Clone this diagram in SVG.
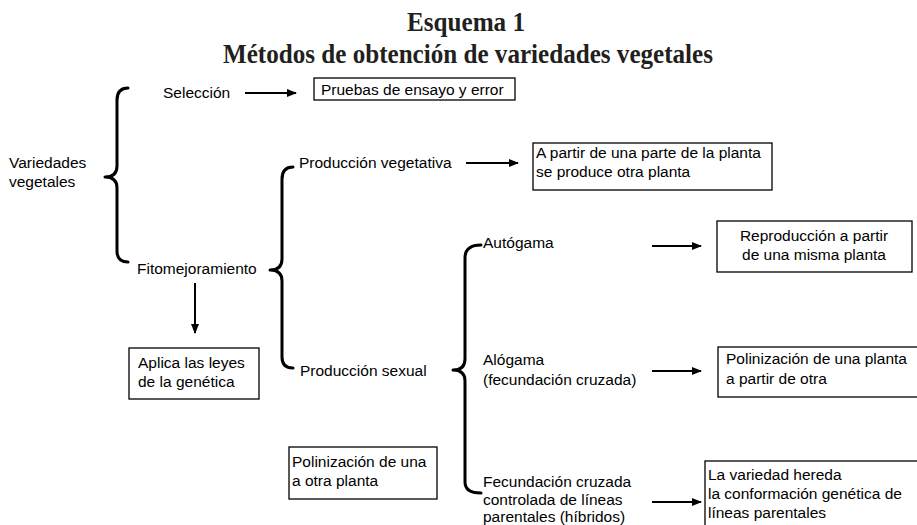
<svg xmlns="http://www.w3.org/2000/svg" width="917" height="525" viewBox="0 0 917 525">
<style>
.t{font-family:"Liberation Sans",Arial,sans-serif;font-size:15.5px;fill:#000}
.h{font-family:"Liberation Serif","Times New Roman",serif;font-weight:bold;font-size:27px;fill:#231f20}
.box{fill:#fff;stroke:#000;stroke-width:1.3}
.br{fill:none;stroke:#000;stroke-width:3;stroke-linecap:round;stroke-linejoin:round}
.ar{fill:none;stroke:#000;stroke-width:2;marker-end:url(#ah)}
</style>
<defs>
<marker id="ah" markerWidth="10" markerHeight="8" refX="9" refY="4" orient="auto" markerUnits="userSpaceOnUse">
<path d="M0,0 L10,4 L0,8 Z" fill="#000"/>
</marker>
</defs>
<rect width="917" height="525" fill="#fff"/>
<g id="title">
<text class="h" x="466" y="31" text-anchor="middle" textLength="118" lengthAdjust="spacingAndGlyphs">Esquema 1</text>
<text class="h" x="468" y="63" text-anchor="middle" textLength="490" lengthAdjust="spacingAndGlyphs">Métodos de obtención de variedades vegetales</text>
</g>
<g id="connectors">
<path class="br" d="M128,88 Q117,88 117,100 L117,166 Q117,177 105,177 Q117,177 117,188 L117,251 Q117,262 128,262"/>
<path class="br" d="M293,167 Q282,167 282,179 L282,259 Q282,270 270,270 Q282,270 282,281 L282,357 Q282,368 293,368"/>
<path class="br" d="M481,245 Q465,245 465,258 L465,359 Q465,370 453,370 Q465,370 465,381 L465,482 Q465,493 481,493"/>
<line class="ar" x1="245" y1="93" x2="296" y2="93"/>
<line class="ar" x1="466" y1="163" x2="518" y2="163"/>
<line class="ar" x1="195" y1="283" x2="195" y2="333"/>
<line class="ar" x1="652" y1="246" x2="701" y2="246"/>
<line class="ar" x1="652" y1="371" x2="701" y2="371"/>
<line class="ar" x1="652" y1="502" x2="701" y2="502"/>
</g>
<g id="variedades">
<text class="t" x="9" y="168">Variedades</text>
<text class="t" x="9" y="187">vegetales</text>
</g>
<g id="seleccion"><text class="t" x="163" y="98">Selección</text></g>
<g id="pruebas">
<rect class="box" x="314" y="78" width="201" height="22"/>
<text class="t" x="321" y="95">Pruebas de ensayo y error</text>
</g>
<g id="fitomejoramiento"><text class="t" x="137" y="274">Fitomejoramiento</text></g>
<g id="aplica">
<rect class="box" x="129" y="348" width="130" height="51"/>
<text class="t" x="138" y="368">Aplica las leyes</text>
<text class="t" x="138" y="387">de la genética</text>
</g>
<g id="vegetativa"><text class="t" x="299" y="168">Producción vegetativa</text></g>
<g id="apartir">
<rect class="box" x="533" y="143" width="239" height="47"/>
<text class="t" x="536" y="158">A partir de una parte de la planta</text>
<text class="t" x="536" y="177">se produce otra planta</text>
</g>
<g id="sexual"><text class="t" x="300" y="376">Producción sexual</text></g>
<g id="polinizacion1">
<rect class="box" x="289" y="447" width="148" height="52"/>
<text class="t" x="292" y="467">Polinización de una</text>
<text class="t" x="292" y="486">a otra planta</text>
</g>
<g id="autogama"><text class="t" x="483" y="248">Autógama</text></g>
<g id="reproduccion">
<rect class="box" x="717" y="221" width="195" height="51"/>
<text class="t" x="814" y="241" text-anchor="middle">Reproducción a partir</text>
<text class="t" x="814" y="260" text-anchor="middle">de una misma planta</text>
</g>
<g id="alogama">
<text class="t" x="483" y="365">Alógama</text>
<text class="t" x="483" y="385">(fecundación cruzada)</text>
</g>
<g id="polinizacion2">
<rect class="box" x="718" y="347" width="205" height="50"/>
<text class="t" x="726" y="364">Polinización de una planta</text>
<text class="t" x="726" y="384">a partir de otra</text>
</g>
<g id="fecundacion">
<text class="t" x="483" y="487">Fecundación cruzada</text>
<text class="t" x="483" y="505">controlada de líneas</text>
<text class="t" x="483" y="522">parentales (híbridos)</text>
</g>
<g id="variedad">
<rect class="box" x="705" y="461" width="220" height="70"/>
<text class="t" x="708" y="480">La variedad hereda</text>
<text class="t" x="708" y="499">la conformación genética de</text>
<text class="t" x="708" y="518">líneas parentales</text>
</g>
</svg>
